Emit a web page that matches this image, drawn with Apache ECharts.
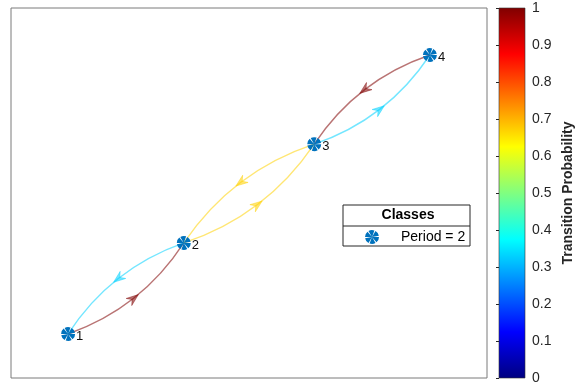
<!DOCTYPE html>
<html>
<head>
<meta charset="utf-8">
<script src="https://cdn.jsdelivr.net/npm/echarts@6/dist/echarts.min.js"></script>
<style>
  html, body { margin: 0; padding: 0; background: #fff; }
  #chart { width: 576px; height: 385px; }
</style>
</head>
<body>
<div id="chart"></div>
<script>
// states of the chain and where the layout put them
const nodeLabels = ['1', '2', '3', '4']
const nodeX = [1.2, 3.63, 6.37, 8.8]
const nodeY = [1.19, 3.65, 6.32, 8.73]

// directed transitions (1-based states) and their probabilities
const edgeFrom = [1, 2, 2, 3, 3, 4]
const edgeTo = [2, 1, 3, 2, 4, 3]
const edgeProb = [1, 0.33, 0.67, 0.67, 0.33, 1]

const legendTitle = 'Classes'
const legendEntry = 'Period = 2'
const colorbarName = 'Transition Probability'

// jet colormap, evenly spaced from 0 to 1
const jetColors = [
  '#000080', '#0000FF', '#0080FF', '#00FFFF', '#80FF80',
  '#FFFF00', '#FF8000', '#FF0000', '#800000'
]

const font = 'Liberation Sans, Arial, sans-serif'
const nodeColor = '#0072BD'

// little pinwheel used as the node marker
let pinwheel = 'path://'
for (let i = 0; i < 6; i++) {
  const a0 = (i * 60) * Math.PI / 180
  const a1 = (i * 60 + 50) * Math.PI / 180
  pinwheel += `M0 0 L${(10 * Math.cos(a0)).toFixed(2)} ${(10 * Math.sin(a0)).toFixed(2)} ` +
    `A10 10 0 0 1 ${(10 * Math.cos(a1)).toFixed(2)} ${(10 * Math.sin(a1)).toFixed(2)} Z `
}

const edgeData = edgeFrom.map((f, i) => {
  const t = edgeTo[i]
  return [nodeX[f - 1], nodeY[f - 1], nodeX[t - 1], nodeY[t - 1], edgeProb[i]]
})
const nodeData = nodeX.map((x, i) => [x, nodeY[i]])

const chart = echarts.init(document.getElementById('chart'))

const renderEdge = (params, api) => {
  const p0 = api.coord([api.value(0), api.value(1)])
  const p2 = api.coord([api.value(2), api.value(3)])
  const dx = p2[0] - p0[0]
  const dy = p2[1] - p0[1]
  const len = Math.hypot(dx, dy)
  const ux = dx / len
  const uy = dy / len
  // bow to the right of the travel direction
  const nx = -uy
  const ny = ux
  const off = len * 0.17
  const mx = (p0[0] + p2[0]) / 2
  const my = (p0[1] + p2[1]) / 2
  const cp = [mx + nx * off, my + ny * off]
  const m = [mx + nx * off / 2, my + ny * off / 2]
  const color = api.visual('color')
  const tip = [m[0] + ux * 6, m[1] + uy * 6]
  const l = [m[0] - ux * 6 + nx * 4.5, m[1] - uy * 6 + ny * 4.5]
  const r = [m[0] - ux * 6 - nx * 4.5, m[1] - uy * 6 - ny * 4.5]
  const notch = [m[0] - ux * 2, m[1] - uy * 2]
  return {
    type: 'group',
    children: [{
      type: 'bezierCurve',
      shape: { x1: p0[0], y1: p0[1], x2: p2[0], y2: p2[1], cpx1: cp[0], cpy1: cp[1] },
      style: { stroke: color, fill: 'none', lineWidth: 1.4, opacity: 0.55 }
    }, {
      type: 'polygon',
      shape: { points: [tip, l, notch, r] },
      style: { fill: color, stroke: color, lineWidth: 0.8, opacity: 0.55 }
    }]
  }
}

const renderColorbar = (params, api) => {
  const a = api.coord([0, api.value(0)])
  const b = api.coord([1, api.value(1)])
  return {
    type: 'rect',
    shape: { x: a[0], y: b[1], width: b[0] - a[0], height: a[1] - b[1] },
    style: {
      fill: {
        type: 'linear', x: 0, y: 1, x2: 0, y2: 0,
        colorStops: jetColors.map((c, i) => ({ offset: i / (jetColors.length - 1), color: c }))
      },
      stroke: '#333',
      lineWidth: 0.6
    }
  }
}

chart.setOption({
  animation: false,
  textStyle: { fontFamily: font },
  grid: [
    { left: 11, top: 8, width: 476, height: 370, show: true, borderColor: '#7a7a7a', borderWidth: 1 },
    { left: 499, top: 8, width: 27, height: 370 }
  ],
  xAxis: [
    { gridIndex: 0, type: 'value', min: 0, max: 10, show: false },
    { gridIndex: 1, type: 'value', min: 0, max: 1, show: false }
  ],
  yAxis: [
    { gridIndex: 0, type: 'value', min: 0, max: 10, show: false },
    {
      gridIndex: 1,
      type: 'value',
      min: 0,
      max: 1,
      interval: 0.1,
      position: 'right',
      name: colorbarName,
      nameLocation: 'middle',
      nameGap: 36,
      nameTextStyle: { fontSize: 14, fontWeight: 'bold', color: '#262626', fontFamily: font },
      axisLine: { show: false },
      axisTick: { show: true, inside: true, length: 3, lineStyle: { color: '#262626' } },
      axisLabel: { fontSize: 14, color: '#262626', margin: 7, fontFamily: font },
      splitLine: { show: false }
    }
  ],
  visualMap: {
    type: 'continuous',
    show: false,
    min: 0,
    max: 1,
    dimension: 4,
    seriesIndex: 0,
    inRange: { color: jetColors }
  },
  legend: {
    data: [legendEntry],
    left: 365,
    top: 230,
    padding: 0,
    itemWidth: 14,
    itemHeight: 14,
    icon: pinwheel,
    textStyle: { fontSize: 14, color: '#000', fontFamily: font, padding: [0, 0, 0, 17] },
    selectedMode: false,
    z: 12
  },
  series: [{
    type: 'custom',
    xAxisIndex: 0,
    yAxisIndex: 0,
    renderItem: renderEdge,
    data: edgeData,
    z: 2
  }, {
    type: 'scatter',
    name: legendEntry,
    xAxisIndex: 0,
    yAxisIndex: 0,
    data: nodeData,
    symbol: pinwheel,
    symbolSize: 14,
    itemStyle: { color: nodeColor, opacity: 1 },
    label: {
      show: true,
      position: 'right',
      distance: 1,
      offset: [0, 2],
      formatter: p => nodeLabels[p.dataIndex],
      fontSize: 13,
      color: '#111',
      fontFamily: font
    },
    z: 3
  }, {
    type: 'custom',
    xAxisIndex: 1,
    yAxisIndex: 1,
    renderItem: renderColorbar,
    data: [[0, 1]],
    z: 1
  }],
  graphic: [{
    type: 'rect',
    shape: { x: 343, y: 205, width: 127, height: 41 },
    style: { fill: '#fff', stroke: '#262626', lineWidth: 1 },
    z: 10
  }, {
    type: 'line',
    shape: { x1: 343, y1: 226, x2: 470, y2: 226 },
    style: { stroke: '#262626', lineWidth: 1 },
    z: 11
  }, {
    type: 'text',
    x: 408,
    y: 215,
    style: {
      text: legendTitle, fontSize: 14, fontWeight: 'bold', fill: '#000',
      align: 'center', verticalAlign: 'middle', fontFamily: font
    },
    z: 11
  }]
})
</script>
</body>
</html>
